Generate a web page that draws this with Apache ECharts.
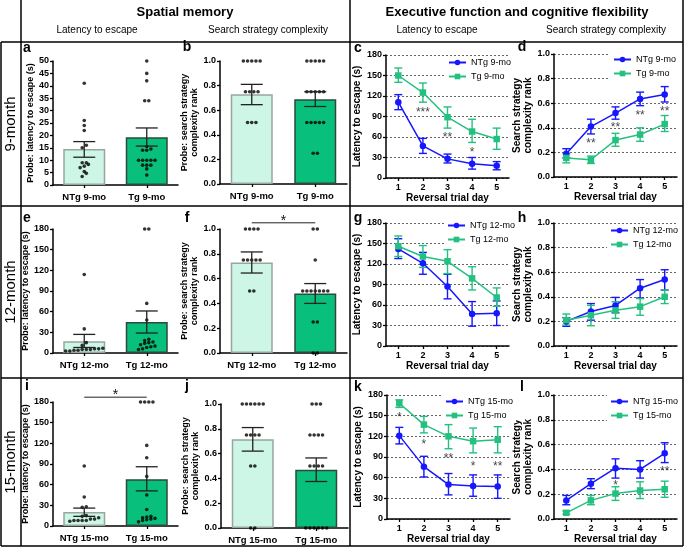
<!DOCTYPE html>
<html><head><meta charset="utf-8">
<script src="https://cdn.jsdelivr.net/npm/echarts@6/dist/echarts.min.js"></script>
<style>html,body{margin:0;padding:0;background:#fff}#c{width:685px;height:548px}</style>
</head><body><div id="c"></div>
<script>
// ---------- DATA ----------
const days = ['1','2','3','4','5'];
const cats9 = ['NTg 9-mo','Tg 9-mo'];
const cats12 = ['NTg 12-mo','Tg 12-mo'];
const cats15 = ['NTg 15-mo','Tg 15-mo'];

// a: probe latency 9-mo
const aMean = [14.5, 19.3];
const aErr = [[11.2, 17.5], [15.7, 23.0]];
const aDotsNTg = [41, 26, 24, 22, 16, 15, 9, 9, 8.3, 7.6, 7, 5.4, 4.7, 3.4];
const aDotsTg = [50, 45, 42, 34, 34, 15.5, 14.5, 14, 14, 10, 10, 10, 10, 10, 8, 8, 8, 6.5, 4];
// b: probe search strategy 9-mo
const bMean = [0.73, 0.69];
const bErr = [[0.645, 0.81], [0.63, 0.75]];
const bDotsNTg = [1, 1, 1, 1, 1, 0.75, 0.75, 0.75, 0.75, 0.5, 0.5, 0.5];
const bDotsTg = [1, 1, 1, 1, 1, 0.75, 0.75, 0.75, 0.75, 0.75, 0.5, 0.5, 0.5, 0.5, 0.5, 0.25, 0.25];
// c: reversal latency 9-mo
const cNTg = [111, 47, 28, 21, 18];
const cNTgErr = [[100, 122], [36, 58], [22, 35], [13, 30], [12, 24]];
const cTg = [150, 125, 89, 68, 57];
const cTgErr = [[140, 161], [111, 139], [73, 104], [52, 86], [42, 73]];
const cStars = [[1, 101, '***'], [2, 65, '**'], [3, 43, '*']];
// d: reversal search strategy 9-mo
const dNTg = [0.19, 0.41, 0.52, 0.635, 0.67];
const dNTgErr = [[0.155, 0.23], [0.35, 0.47], [0.47, 0.57], [0.58, 0.69], [0.61, 0.735]];
const dTg = [0.155, 0.14, 0.30, 0.345, 0.43];
const dTgErr = [[0.115, 0.19], [0.11, 0.17], [0.25, 0.355], [0.29, 0.40], [0.37, 0.50]];
const dStars = [[1, 0.30, '**'], [2, 0.43, '**'], [3, 0.535, '**'], [4, 0.56, '**']];
// e: probe latency 12-mo
const eMean = [17, 45];
const eErr = [[8, 27], [29, 61]];
const eDotsNTg = [114, 35, 15, 11, 7, 6, 6, 5, 5, 5, 4, 4, 3, 3];
const eDotsTg = [180, 180, 72, 48, 20, 18, 16, 15, 14, 12, 10, 9, 8, 6, 5];
// f: probe search strategy 12-mo
const fMean = [0.73, 0.48];
const fErr = [[0.645, 0.815], [0.40, 0.56]];
const fDotsNTg = [1, 1, 1, 1, 0.75, 0.75, 0.75, 0.75, 0.75, 0.5, 0.5];
const fDotsTg = [1, 1, 0.75, 0.5, 0.5, 0.5, 0.5, 0.5, 0.5, 0.5, 0.25, 0.25, 0, 0];
// g: reversal latency 12-mo
const gNTg = [142, 121, 87, 47, 48];
const gNTgErr = [[128, 157], [105, 137], [69, 105], [29, 65], [30, 66]];
const gTg = [146, 131, 124, 99, 71];
const gTgErr = [[131, 161], [115, 147], [106, 141], [82, 116], [58, 85]];
// h: reversal search strategy 12-mo
const hNTg = [0.20, 0.28, 0.33, 0.47, 0.54];
const hNTgErr = [[0.16, 0.23], [0.21, 0.345], [0.27, 0.395], [0.39, 0.54], [0.455, 0.62]];
const hTg = [0.21, 0.25, 0.29, 0.32, 0.40];
const hTgErr = [[0.17, 0.26], [0.165, 0.33], [0.225, 0.36], [0.25, 0.385], [0.345, 0.455]];
// i: probe latency 15-mo
const iMean = [20.5, 68];
const iErr = [[14, 26], [51, 86]];
const iDotsNTg = [87, 42, 28, 27, 15, 14, 12, 10, 10, 8, 8, 8, 8, 7];
const iDotsTg = [180, 180, 180, 180, 117, 99, 72, 45, 24, 14, 13, 12, 11, 10, 9, 8, 6];
// j: probe search strategy 15-mo
const jMean = [0.715, 0.47];
const jErr = [[0.62, 0.81], [0.375, 0.565]];
const jDotsNTg = [1, 1, 1, 1, 1, 1, 0.75, 0.75, 0.75, 0.75, 0.5, 0.5, 0, 0];
const jDotsTg = [1, 1, 1, 0.75, 0.75, 0.75, 0.75, 0.5, 0.5, 0.5, 0.5, 0, 0, 0, 0, 0, 0];
// k: reversal latency 15-mo
const kNTg = [121, 76, 50, 48, 47];
const kNTgErr = [[109, 133], [61, 91], [35, 66], [33, 64], [30, 64]];
const kTg = [168, 137, 120, 113, 115];
const kTgErr = [[162, 173], [125, 149], [102, 137], [96, 132], [96, 134]];
const kStars = [[0, 153, '*'], [1, 113, '*'], [2, 94, '**'], [3, 82, '*'], [4, 82, '**']];
// l: reversal search strategy 15-mo
const lNTg = [0.15, 0.285, 0.41, 0.40, 0.53];
const lNTgErr = [[0.115, 0.19], [0.245, 0.325], [0.33, 0.485], [0.33, 0.47], [0.455, 0.615]];
const lTg = [0.05, 0.15, 0.205, 0.23, 0.24];
const lTgErr = [[0.04, 0.065], [0.115, 0.19], [0.15, 0.26], [0.165, 0.30], [0.175, 0.305]];
const lStars = [[2, 0.30, '*'], [4, 0.41, '**']];

// ---------- STYLE ----------
const FONT = "'Liberation Sans', Arial, Helvetica, sans-serif";
const C_NTG = '#1616ff', C_TG = '#24c080';
const BAR_NTG = '#cdf6e6', BAR_NTG_B = '#97a79f', BAR_TG = '#08c07b', BAR_TG_B = '#2c4a3d';

const opt = {animation: false, grid: [], xAxis: [], yAxis: [], series: [], legend: [], graphic: []};

const axLine = {show: true, onZero: false, lineStyle: {color: '#000', width: 1.5}};
const axTick = {show: true, length: 3, lineStyle: {color: '#000', width: 1.3}};
const axLabel = {color: '#000', fontSize: 9, fontWeight: 'bold', fontFamily: FONT, margin: 4};
const nameStyle = {color: '#000', fontSize: 9, fontWeight: 'bold', fontFamily: FONT, lineHeight: 10};

function swarm(vals, range, pxH, xc) {
  const thr = range * 3.5 / pxH;
  const sorted = vals.slice().sort((a, b) => a - b);
  const out = []; let cl = [];
  const flush = () => { const n = cl.length; cl.forEach((v, i) => out.push([xc + (i - (n - 1) / 2) * 0.066, v])); cl = []; };
  sorted.forEach(v => { if (cl.length && v - cl[0] > thr) flush(); cl.push(v); });
  flush();
  return out;
}

function errRender(color, cap, lw) {
  return function (params, api) {
    const x = api.value(0), lo = api.value(1), hi = api.value(2);
    const p1 = api.coord([x, lo]), p2 = api.coord([x, hi]);
    const st = {stroke: color, lineWidth: lw};
    return {type: 'group', children: [
      {type: 'line', shape: {x1: p1[0], y1: p1[1], x2: p2[0], y2: p2[1]}, style: st},
      {type: 'line', shape: {x1: p1[0] - cap, y1: p1[1], x2: p1[0] + cap, y2: p1[1]}, style: st},
      {type: 'line', shape: {x1: p2[0] - cap, y1: p2[1], x2: p2[0] + cap, y2: p2[1]}, style: st}
    ]};
  };
}

function addBarPanel(p) {
  const gi = opt.grid.length;
  opt.grid.push({left: p.g[0], top: p.g[1], width: p.g[2], height: p.g[3], outerBoundsMode: 'none', containLabel: false});
  const xc = opt.xAxis.length;
  opt.xAxis.push({type: 'category', gridIndex: gi, data: p.cats, axisLine: axLine,
    axisTick: Object.assign({alignWithLabel: true}, axTick),
    axisLabel: Object.assign({}, axLabel, {fontSize: 9.5, margin: 7, interval: 0})});
  const xv = opt.xAxis.length;
  opt.xAxis.push({type: 'value', gridIndex: gi, min: -0.5, max: 1.5, show: false});
  const yi = opt.yAxis.length;
  opt.yAxis.push({type: 'value', gridIndex: gi, min: 0, max: p.yMax, interval: p.yInt,
    name: p.yName, nameLocation: 'middle', nameGap: p.nameGap, nameTextStyle: nameStyle,
    axisLine: axLine, axisTick: axTick, splitLine: {show: false},
    axisLabel: Object.assign({}, axLabel, {formatter: p.fmt})});
  opt.series.push({type: 'bar', xAxisIndex: xc, yAxisIndex: yi, barWidth: 42, silent: true,
    data: p.means.map((v, i) => ({value: v, itemStyle: {color: i ? BAR_TG : BAR_NTG, borderColor: i ? BAR_TG_B : BAR_NTG_B, borderWidth: 1.5}}))});
  opt.series.push({type: 'scatter', xAxisIndex: xv, yAxisIndex: yi, symbol: 'circle', symbolSize: 3.6, clip: false, z: 4,
    itemStyle: {color: '#000'}, data: swarm(p.dN, p.yMax, p.g[3], 0).concat(swarm(p.dT, p.yMax, p.g[3], 1))});
  opt.series.push({type: 'custom', xAxisIndex: xc, yAxisIndex: yi, z: 5, clip: false,
    renderItem: errRender('#222', 11, 1.3), encode: {x: 0, y: [1, 2]},
    data: p.errs.map((e, i) => [i, e[0], e[1]])});
  if (p.sig) {
    opt.series.push({type: 'custom', xAxisIndex: xc, yAxisIndex: yi, z: 5, clip: false,
      encode: {x: 0, y: 2},
      renderItem: function (params, api) {
        const a = api.coord([api.value(0), api.value(2)]), b = api.coord([api.value(1), api.value(2)]);
        return {type: 'group', children: [
          {type: 'line', shape: {x1: a[0], y1: a[1], x2: b[0], y2: b[1]}, style: {stroke: '#222', lineWidth: 1}},
          {type: 'text', x: (a[0] + b[0]) / 2, y: a[1] + 5, style: {text: '*', align: 'center', verticalAlign: 'bottom', fontSize: 14, fontFamily: FONT, fill: '#111'}}
        ]};
      },
      data: [[0, 1, p.sig]]});
  }
}

function addLinePanel(p) {
  const gi = opt.grid.length;
  opt.grid.push({left: p.g[0], top: p.g[1], width: p.g[2], height: p.g[3], outerBoundsMode: 'none', containLabel: false});
  const xi = opt.xAxis.length;
  opt.xAxis.push({type: 'category', gridIndex: gi, data: days, boundaryGap: true,
    name: 'Reversal trial day', nameLocation: 'middle', nameGap: 14,
    nameTextStyle: Object.assign({}, nameStyle, {fontSize: 10}),
    axisLine: axLine, axisTick: Object.assign({alignWithLabel: true}, axTick),
    axisLabel: Object.assign({}, axLabel, {margin: 5, interval: 0})});
  const yi = opt.yAxis.length;
  opt.yAxis.push({type: 'value', gridIndex: gi, min: 0, max: p.yMax, interval: p.yInt,
    name: p.yName, nameLocation: 'middle', nameGap: p.nameGap,
    nameTextStyle: Object.assign({}, nameStyle, {fontSize: 10, lineHeight: 11}),
    axisLine: axLine, axisTick: axTick,
    splitLine: {show: true, lineStyle: {color: '#555', width: 0.9, type: [2, 2]}},
    axisLabel: Object.assign({}, axLabel, {formatter: p.fmt})});
  opt.series.push({type: 'custom', xAxisIndex: xi, yAxisIndex: yi, z: 2, clip: false,
    renderItem: errRender(C_NTG, 4, 1.4), encode: {x: 0, y: [1, 2]},
    data: p.nE.map((e, i) => [i, e[0], e[1]])});
  opt.series.push({type: 'custom', xAxisIndex: xi, yAxisIndex: yi, z: 2, clip: false,
    renderItem: errRender(C_TG, 4, 1.4), encode: {x: 0, y: [1, 2]},
    data: p.tE.map((e, i) => [i, e[0], e[1]])});
  opt.series.push({type: 'line', name: p.names[0], xAxisIndex: xi, yAxisIndex: yi, z: 3,
    data: p.n, symbol: 'circle', symbolSize: 6.5, color: C_NTG,
    lineStyle: {color: C_NTG, width: 1.5}, itemStyle: {color: C_NTG}});
  opt.series.push({type: 'line', name: p.names[1], xAxisIndex: xi, yAxisIndex: yi, z: 3,
    data: p.t, symbol: 'rect', symbolSize: 6.5, color: C_TG,
    lineStyle: {color: C_TG, width: 1.5}, itemStyle: {color: C_TG}});
  if (p.stars) {
    opt.series.push({type: 'scatter', xAxisIndex: xi, yAxisIndex: yi, z: 4, symbolSize: 1, clip: false,
      itemStyle: {color: 'rgba(0,0,0,0)'}, data: p.stars,
      label: {show: true, position: 'inside', offset: [0, 4], formatter: q => q.data[2],
        color: '#111', fontSize: 12, fontFamily: FONT}});
  }
  opt.legend.push({data: p.names, left: p.leg[0], top: p.leg[1], orient: 'vertical',
    itemWidth: 17, itemHeight: 7, itemGap: 3, padding: [1, 3], backgroundColor: '#fff',
    textStyle: {fontSize: 9, fontFamily: FONT, color: '#000', lineHeight: 11}});
}

const f1 = v => v.toFixed(1);
const latName = 'Probe: latency to escape (s)';
const ssName = 'Probe: search strategy\ncomplexity rank';

addBarPanel({g: [53, 61, 125, 124], cats: cats9, means: aMean, errs: aErr, dN: aDotsNTg, dT: aDotsTg, yMax: 50, yInt: 5, yName: latName, nameGap: 12});
addBarPanel({g: [220, 61, 127, 123], cats: cats9, means: bMean, errs: bErr, dN: bDotsNTg, dT: bDotsTg, yMax: 1, yInt: 0.2, yName: ssName, nameGap: 11, fmt: f1});
addLinePanel({g: [386, 55, 123, 123], n: cNTg, nE: cNTgErr, t: cTg, tE: cTgErr, names: ['NTg 9-mo', 'Tg 9-mo'], yMax: 180, yInt: 30, yName: 'Latency to escape (s)', nameGap: 15, stars: cStars, leg: [445, 56]});
addLinePanel({g: [554, 54, 123, 123], n: dNTg, nE: dNTgErr, t: dTg, tE: dTgErr, names: ['NTg 9-mo', 'Tg 9-mo'], yMax: 1, yInt: 0.2, yName: 'Search strategy\ncomplexity rank', nameGap: 15, fmt: f1, stars: dStars, leg: [610, 53]});

addBarPanel({g: [53, 229, 125, 124], cats: cats12, means: eMean, errs: eErr, dN: eDotsNTg, dT: eDotsTg, yMax: 180, yInt: 30, yName: latName, nameGap: 12});
addBarPanel({g: [220, 229, 127, 124], cats: cats12, means: fMean, errs: fErr, dN: fDotsNTg, dT: fDotsTg, yMax: 1, yInt: 0.2, yName: ssName, nameGap: 11, fmt: f1, sig: 1.05});
addLinePanel({g: [386, 223, 123, 123], n: gNTg, nE: gNTgErr, t: gTg, tE: gTgErr, names: ['NTg 12-mo', 'Tg 12-mo'], yMax: 180, yInt: 30, yName: 'Latency to escape (s)', nameGap: 15, leg: [444, 219]});
addLinePanel({g: [554, 223, 123, 123], n: hNTg, nE: hNTgErr, t: hTg, tE: hTgErr, names: ['NTg 12-mo', 'Tg 12-mo'], yMax: 1, yInt: 0.2, yName: 'Search strategy\ncomplexity rank', nameGap: 15, fmt: f1, leg: [607, 224]});

addBarPanel({g: [53, 402, 125, 124], cats: cats15, means: iMean, errs: iErr, dN: iDotsNTg, dT: iDotsTg, yMax: 180, yInt: 30, yName: latName, nameGap: 12, sig: 187});
addBarPanel({g: [221, 404, 127, 124], cats: cats15, means: jMean, errs: jErr, dN: jDotsNTg, dT: jDotsTg, yMax: 1, yInt: 0.2, yName: ssName, nameGap: 11, fmt: f1});
addLinePanel({g: [387, 395, 123, 124], n: kNTg, nE: kNTgErr, t: kTg, tE: kTgErr, names: ['NTg 15-mo', 'Tg 15-mo'], yMax: 180, yInt: 30, yName: 'Latency to escape (s)', nameGap: 15, stars: kStars, leg: [442, 395]});
addLinePanel({g: [554, 395, 123, 124], n: lNTg, nE: lNTgErr, t: lTg, tE: lTgErr, names: ['NTg 15-mo', 'Tg 15-mo'], yMax: 1, yInt: 0.2, yName: 'Search strategy\ncomplexity rank', nameGap: 15, fmt: f1, stars: lStars, leg: [607, 395]});

// ---------- TABLE FRAME & TEXTS ----------
const G = opt.graphic;
function txt(t, x, y, size, weight, rot) {
  G.push({type: 'text', x: x, y: y, rotation: rot || 0, z: 10,
    style: {text: t, align: 'center', verticalAlign: 'middle', fontSize: size, fontWeight: weight || 'normal', fontFamily: FONT, fill: '#000'}});
}
function ln(x1, y1, x2, y2) {
  G.push({type: 'line', z: 10, shape: {x1: x1, y1: y1, x2: x2, y2: y2}, style: {stroke: '#000', lineWidth: 1.5}});
}
ln(21, 0, 21, 546); ln(350, 0, 350, 546); ln(683, 0, 683, 546); ln(1, 42, 1, 546);
ln(1, 42, 683, 42); ln(1, 206, 683, 206); ln(1, 378, 683, 378); ln(1, 546, 683, 546);

txt('Spatial memory', 185, 12, 13, 'bold');
txt('Executive function and cognitive flexibility', 517, 12, 13, 'bold');
txt('Latency to escape', 97, 30, 10);
txt('Search strategy complexity', 268, 30, 10);
txt('Latency to escape', 437, 30, 10);
txt('Search strategy complexity', 606, 30, 10);
txt('9-month', 11, 124, 15, 'normal', Math.PI / 2);
txt('12-month', 11, 292, 15, 'normal', Math.PI / 2);
txt('15-month', 11, 462, 15, 'normal', Math.PI / 2);
const letters = [['a', 27, 48], ['b', 187, 47], ['c', 358, 48], ['d', 522, 47],
  ['e', 27, 218], ['f', 187, 218], ['g', 358, 218], ['h', 522, 218],
  ['i', 27, 386], ['j', 187, 386], ['k', 358, 387], ['l', 522, 387]];
letters.forEach(l => txt(l[0], l[1], l[2], 14, 'bold'));

const chart = echarts.init(document.getElementById('c'), null, {renderer: 'canvas'});
chart.setOption(opt);
</script></body></html>
